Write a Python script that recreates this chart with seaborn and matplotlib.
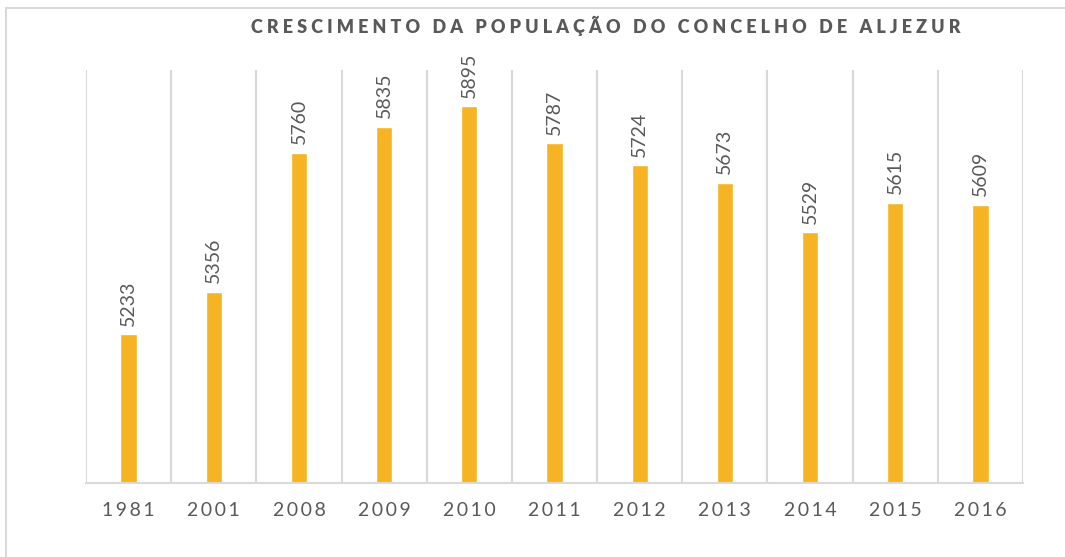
import matplotlib
matplotlib.use("Agg")
import matplotlib.pyplot as plt
import seaborn as sns
import pandas as pd
from matplotlib.lines import Line2D

# data
years = ["1981", "2001", "2008", "2009", "2010", "2011", "2012", "2013", "2014", "2015", "2016"]
population = [5233, 5356, 5760, 5835, 5895, 5787, 5724, 5673, 5529, 5615, 5609]

title = "CRESCIMENTO DA POPULAÇÃO DO CONCELHO DE ALJEZUR"

bar_color = "#F6B324"
text_color = "#595959"
grid_color = "#D9D9D9"

sns.set_theme(style="white")
plt.rcParams['font.family'] = ['Lato', 'DejaVu Sans']

df = pd.DataFrame({"year": years, "pop": population})

fig = plt.figure(figsize=(10.65, 5.57), dpi=100)
ax = fig.add_axes([86 / 1065, 1 - 483 / 557, (1023 - 86) / 1065, (483 - 70) / 557])

sns.barplot(data=df, x="year", y="pop", color=bar_color, width=0.19,
            saturation=1, ax=ax)
ax.set_ylim(4800, 6000)
ax.set_xlim(-0.5, len(years) - 0.5)

# vertical separators between categories
for i in range(len(years) + 1):
    ax.axvline(i - 0.5, color=grid_color, lw=1.5, zorder=0)

for s in ax.spines.values():
    s.set_visible(False)
ax.spines['bottom'].set_visible(True)
ax.spines['bottom'].set_color(grid_color)
ax.spines['bottom'].set_linewidth(1.5)

ax.set_yticks([])
ax.set_xlabel("")
ax.set_ylabel("")
ax.set_xticks(range(len(years)))
ax.set_xticklabels(["\u2009".join(y) for y in years], fontsize=14, color=text_color)
ax.tick_params(axis='x', length=0, pad=14)

# value labels
for i, v in enumerate(population):
    ax.annotate(str(v), (i, v), xytext=(0, 6), textcoords="offset points",
                rotation=90, ha="center", va="bottom", fontsize=14, color=text_color)

spaced = "   ".join(" ".join(w) for w in title.split())
fig.text(606 / 1065, 1 - 26 / 557, spaced,
         ha="center", va="center", fontsize=13, fontweight="heavy", color=text_color)

# outer chart frame (top and left edge visible)
fig.add_artist(Line2D([6 / 1065, 1], [1 - 8 / 557, 1 - 8 / 557], transform=fig.transFigure,
                      color=grid_color, lw=1.5))
fig.add_artist(Line2D([6 / 1065, 6 / 1065], [0, 1 - 8 / 557], transform=fig.transFigure,
                      color=grid_color, lw=1.5))

fig.savefig("out.png", dpi=100)
